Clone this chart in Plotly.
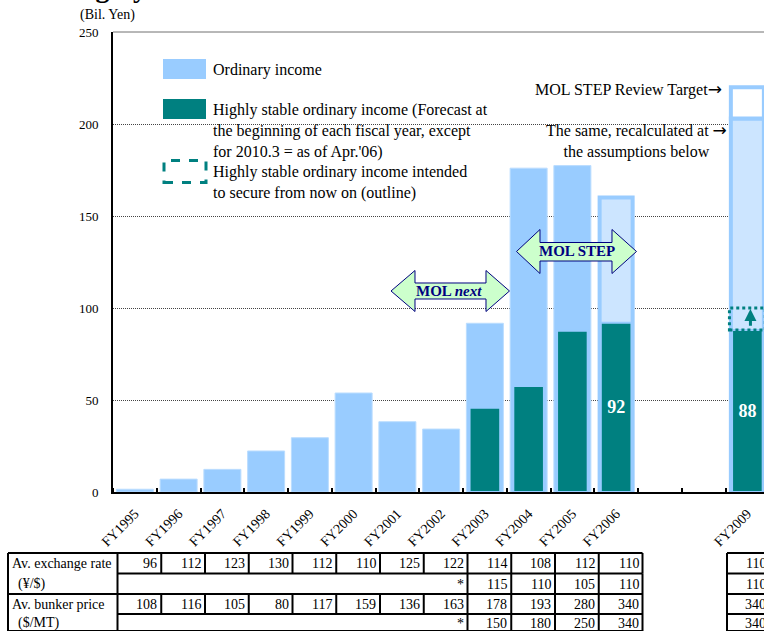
import plotly.graph_objects as go

# ---------------- data ----------------
years = ["FY1995", "FY1996", "FY1997", "FY1998", "FY1999", "FY2000", "FY2001",
         "FY2002", "FY2003", "FY2004", "FY2005", "FY2006", "FY2009"]
xpos = [0, 1, 2, 3, 4, 5, 6, 7, 8, 9, 10, 11, 14]

# ordinary income, actual results FY1995-FY2005 (Bil. Yen)
ordinary_actual = [1.5, 7.0, 12.3, 22.3, 29.5, 53.8, 38.2, 34.2, 91.7, 176.0, 177.4]
# FY2006 forecast
ordinary_fy2006 = 160
# FY2009: MOL STEP review target and the same recalculated at the table assumptions
target_fy2009 = 220
recalc_fy2009 = 203

# highly stable ordinary income (FY2003, FY2004, FY2005, FY2006, FY2009)
stable_years = ["FY2003", "FY2004", "FY2005", "FY2006", "FY2009"]
stable = [45.8, 57.6, 87.7, 92, 88]
stable_labeled = ["FY2006", "FY2009"]
# highly stable income intended to secure from now on (FY2009 outline top)
intended_fy2009 = 100

# assumption table
fx_rate = [96, 112, 123, 130, 112, 110, 125, 122, 114, 108, 112, 110, 110]
fx_recalc = [115, 110, 105, 110, 110]          # FY2003-FY2006, FY2009
bunker = [108, 116, 105, 80, 117, 159, 136, 163, 178, 193, 280, 340, 340]
bunker_recalc = [150, 180, 250, 340, 340]      # FY2003-FY2006, FY2009
recalc_years = ["FY2003", "FY2004", "FY2005", "FY2006", "FY2009"]

# ---------------- geometry ----------------
W, H = 764, 631
L, T = 113, 32
PW, PH = W - L, 460
SLOT = 43.75
X0 = -0.5
X1 = X0 + PW / SLOT

SERIF = "Liberation Serif"
LIGHT = "#99CCFF"
PALE = "#CCE5FF"
TEAL = "#008080"
NAVY = "#000080"
ARROW = '<span style="font-family:DejaVu Sans;font-size:17px">\u2192</span>'

pos = dict(zip(years, xpos))


def px_x(px):
    return (px - L) / PW


def px_y(py):
    return (T + PH - py) / PH


def data_px(x):
    return L + (x - X0) * SLOT


fig = go.Figure()

# ordinary income (actual)
fig.add_trace(go.Bar(
    x=xpos[:len(ordinary_actual)], y=ordinary_actual, width=0.846,
    marker=dict(color=LIGHT, line=dict(color="#BBDDFF", width=1)),
    hoverinfo="skip"))

# FY2006 forecast, FY2009 recalculated target
fig.add_trace(go.Bar(
    x=[pos["FY2006"], pos["FY2009"]], y=[ordinary_fy2006, recalc_fy2009], width=0.755,
    marker=dict(color=PALE, line=dict(color=LIGHT, width=4)),
    hoverinfo="skip"))

# FY2009 MOL STEP review target (segment above the recalculated value)
fig.add_trace(go.Bar(
    x=[pos["FY2009"]], y=[target_fy2009 - recalc_fy2009], base=[recalc_fy2009],
    width=0.755,
    marker=dict(color="white", line=dict(color=LIGHT, width=4)),
    hoverinfo="skip"))

# highly stable ordinary income
fig.add_trace(go.Bar(
    x=[pos[y] for y in stable_years], y=stable, width=0.70,
    marker=dict(color=TEAL, line=dict(color=LIGHT, width=2)),
    text=[f"{v:g}" if y in stable_labeled else "" for y, v in zip(stable_years, stable)],
    textposition="inside", insidetextanchor="middle", textangle=0,
    constraintext="none",
    textfont=dict(family=SERIF, size=18, color="white", weight="bold"),
    hoverinfo="skip"))

shapes = []
annotations = []

# outline of stable income intended to secure (FY2009)
xf = pos["FY2009"]
shapes.append(dict(type="rect", xref="x", yref="y", x0=xf - 0.41, x1=xf + 0.41,
                   y0=stable[-1], y1=intended_fy2009,
                   line=dict(color=TEAL, width=3, dash="dot"), layer="above"))
annotations.append(dict(xref="x", yref="y", axref="x", ayref="y",
                        x=xf + 0.07, y=intended_fy2009 - 0.5,
                        ax=xf + 0.07, ay=stable[-1] + 1.5, text="",
                        showarrow=True, arrowhead=2, arrowsize=0.8,
                        arrowwidth=3, arrowcolor=TEAL))

# top frame of the plot area
shapes.append(dict(type="line", xref="paper", yref="paper", x0=0, x1=1, y0=1, y1=1,
                   line=dict(color="#707070", width=1)))

# ---------------- legend ----------------
def rect_px(x0, y0, x1, y1, **kw):
    d = dict(type="rect", xref="paper", yref="paper",
             x0=px_x(x0), x1=px_x(x1), y0=px_y(y1), y1=px_y(y0))
    d.update(kw)
    return d


shapes.append(rect_px(163, 59, 206, 79, fillcolor=LIGHT, line=dict(width=0)))
shapes.append(rect_px(163, 99, 206, 119, fillcolor=TEAL, line=dict(width=0)))
shapes.append(rect_px(164, 160.5, 206, 182.5, fillcolor="white",
                      line=dict(color=TEAL, width=3, dash="dash")))


def text_px(x, y, text, size=16, xanchor="left", align="left", **kw):
    d = dict(xref="paper", yref="paper", x=px_x(x), y=px_y(y), text=text,
             showarrow=False, xanchor=xanchor, yanchor="middle", align=align,
             font=dict(family=SERIF, size=size, color="black"))
    d.update(kw)
    return d


annotations.append(text_px(211, 70, "Ordinary income"))
annotations.append(text_px(211, 130.5,
                           "Highly stable ordinary income (Forecast at<br>"
                           "the beginning of each fiscal year, except<br>"
                           "for 2010.3 = as of Apr.'06)"))
annotations.append(text_px(211, 182.5,
                           "Highly stable ordinary income intended<br>"
                           "to secure from now on (outline)"))

annotations.append(text_px(724, 89, "MOL STEP Review Target" + ARROW, xanchor="right",
                           align="right"))
annotations.append(text_px(636, 140.5,
                           "The same, recalculated at " + ARROW + "<br>the assumptions below",
                           xanchor="center", align="center"))

# unit label and (cropped) heading
annotations.append(text_px(107, 15, "(Bil. Yen)", size=14, xanchor="center",
                           align="center"))
annotations.append(dict(xref="paper", yref="paper", x=px_x(64), y=px_y(5),
                        text="<b>Highly Stable Income</b>", showarrow=False,
                        xanchor="left", yanchor="bottom",
                        font=dict(family=SERIF, size=28, color="black")))

# ---------------- MOL next / MOL STEP arrows ----------------
def double_arrow(tl, bl, br, tr, cy, top, bot, st, sb):
    pts = [(tl, cy), (bl, top), (bl, st), (br, st), (br, top), (tr, cy),
           (br, bot), (br, sb), (bl, sb), (bl, bot)]
    path = "M " + " L ".join(f"{px_x(a):.5f},{px_y(b):.5f}" for a, b in pts) + " Z"
    return dict(type="path", xref="paper", yref="paper", path=path,
                fillcolor="#CCFFCC", line=dict(color=NAVY, width=1), layer="above")


shapes.append(double_arrow(391, 415, 486, 509.5, 291, 270.5, 311.5, 283, 299))
shapes.append(double_arrow(516.5, 540, 612, 636.5, 251.5, 229.5, 273.5, 242.5, 261))
annotations.append(text_px(449, 291, "<b>MOL <i>next</i></b>", size=15,
                           xanchor="center", align="center",
                           font=dict(family=SERIF, size=15, color=NAVY)))
annotations.append(text_px(577, 251.5, "<b>MOL STEP</b>", size=15,
                           xanchor="center", align="center",
                           font=dict(family=SERIF, size=15, color=NAVY)))

# ---------------- assumption table ----------------
ROWS = [553, 573.5, 594, 614, 631]
TLEFT = 8
OFF = 4.5
FY09_LEFT = 727
FY09_RIGHT = 770


def col_edge(i):
    return data_px(i - 0.5) + OFF


def hline(y, x0, x1):
    return dict(type="line", xref="paper", yref="paper",
                x0=px_x(x0), x1=px_x(x1), y0=px_y(y), y1=px_y(y),
                line=dict(color="black", width=2))


def vline(x, y0, y1):
    return dict(type="line", xref="paper", yref="paper",
                x0=px_x(x), x1=px_x(x), y0=px_y(y0), y1=px_y(y1),
                line=dict(color="black", width=2))


main_cols = xpos[:12]
right_edge = col_edge(main_cols[-1] + 1)
first_recalc = col_edge(pos[recalc_years[0]])

for i, y in enumerate(ROWS):
    x0 = TLEFT if i in (0, 2, 4) else col_edge(0)
    shapes.append(hline(y, x0, right_edge))
    shapes.append(hline(y, FY09_LEFT, W + 5))

shapes.append(vline(TLEFT, ROWS[0], ROWS[-1]))
shapes.append(vline(col_edge(0), ROWS[0], ROWS[-1]))
for r in (0, 2):
    for c in main_cols:
        shapes.append(vline(col_edge(c + 1), ROWS[r], ROWS[r + 1]))
for r in (1, 3):
    for c in [pos[y] for y in recalc_years[:-1]]:
        shapes.append(vline(col_edge(c), ROWS[r], ROWS[r + 1]))
    shapes.append(vline(right_edge, ROWS[r], ROWS[r + 1]))
shapes.append(vline(FY09_LEFT, ROWS[0], ROWS[-1]))


def row_mid(r):
    return (ROWS[r] + ROWS[r + 1]) / 2


labels = [("Av. exchange rate", 10), ("(\u00a5/$)", 16),
          ("Av. bunker price", 10), ("($/MT)", 16)]
for r, (lab, lx) in enumerate(labels):
    annotations.append(text_px(lx, row_mid(r) + 0.5, lab, size=14))


def cell(r, x, val):
    right = FY09_RIGHT if x == xf else col_edge(x + 1)
    annotations.append(text_px(right - 2, row_mid(r) + 0.5, str(val), size=14,
                               xanchor="right", align="right"))


for x, v in zip(xpos, fx_rate):
    cell(0, x, v)
for x, v in zip(xpos, bunker):
    cell(2, x, v)
for yr, v in zip(recalc_years, fx_recalc):
    cell(1, pos[yr], v)
for yr, v in zip(recalc_years, bunker_recalc):
    cell(3, pos[yr], v)
for r in (1, 3):
    annotations.append(text_px(first_recalc - 2, row_mid(r) + 0.5, "*", size=14,
                               xanchor="right", align="right"))

# ---------------- layout ----------------
fig.update_layout(
    width=W, height=H,
    margin=dict(l=L, r=0, t=T, b=H - T - PH, pad=0),
    barmode="overlay",
    showlegend=False,
    plot_bgcolor="white", paper_bgcolor="white",
    font=dict(family=SERIF, size=13, color="black"),
    shapes=shapes,
    annotations=annotations,
    xaxis=dict(
        range=[X0, X1], tickmode="array", tickvals=xpos, ticktext=years,
        tickangle=-45, ticks="", showgrid=False, zeroline=False,
        showline=True, linecolor="black", linewidth=2,
        tickfont=dict(family=SERIF, size=14, color="black"),
        ticklabelstandoff=6,
        minor=dict(tickmode="array", tickvals=[i + 0.5 for i in range(-1, 15)],
                   ticks="inside", ticklen=4, tickwidth=1.5, tickcolor="black",
                   showgrid=False),
        fixedrange=True,
    ),
    yaxis=dict(
        range=[0, 250], tickmode="array", tickvals=[0, 50, 100, 150, 200, 250],
        ticks="", showgrid=True, gridcolor="#444444", gridwidth=1, griddash="1px,1px",
        zeroline=False, showline=True, linecolor="black", linewidth=2,
        tickfont=dict(family=SERIF, size=13, color="black"),
        ticklabelstandoff=10, fixedrange=True,
    ),
)

fig.write_html("out.html")
